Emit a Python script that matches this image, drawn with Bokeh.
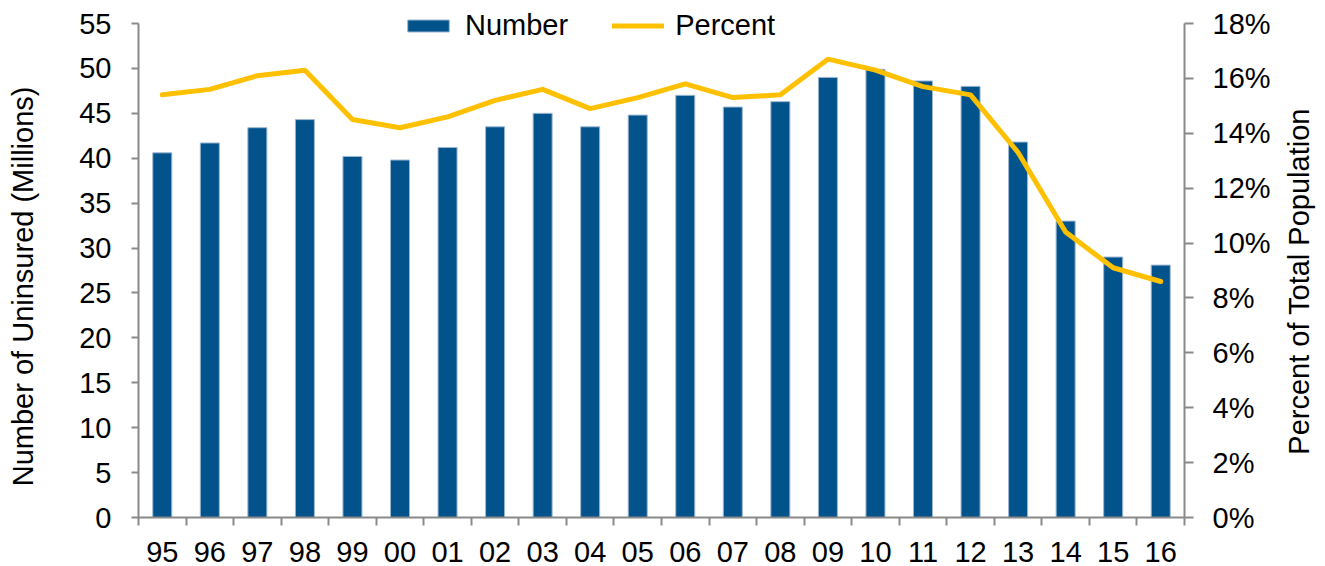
import math
import numpy as np
from bokeh.plotting import figure
from bokeh.layouts import row
from bokeh.models import (Range1d, LinearAxis, FixedTicker, PrintfTickFormatter,
                          Legend, LegendItem, ColumnDataSource, Label)
from bokeh.embed import file_html
from bokeh.resources import INLINE

years = ["95", "96", "97", "98", "99", "00", "01", "02", "03", "04", "05",
         "06", "07", "08", "09", "10", "11", "12", "13", "14", "15", "16"]
uninsured_millions = [40.6, 41.7, 43.4, 44.3, 40.2, 39.8, 41.2, 43.5, 45.0, 43.5, 44.8,
                      47.0, 45.7, 46.3, 49.0, 49.9, 48.6, 48.0, 41.8, 33.0, 29.0, 28.1]
percent_uninsured = [15.4, 15.6, 16.1, 16.3, 14.5, 14.2, 14.6, 15.2, 15.6, 14.9, 15.3,
                     15.8, 15.3, 15.4, 16.7, 16.3, 15.7, 15.4, 13.3, 10.4, 9.1, 8.6]
left_ticks = list(range(0, 56, 5))
right_ticks = list(range(0, 19, 2))
left_max, right_max = 55, 18
left_title = "Number of Uninsured (Millions)"
right_title = "Percent of Total Population"

FONT = "Liberation Sans"
FS = "29px"
AXC = "#898989"

H = 566
WL, WR = 40, 45
WM = 1325 - WL - WR
FRAME_BOTTOM = 49          # px below the plot frame
FRAME_TOP_PX = 23          # where the top tick sits
plot_h = H - FRAME_BOTTOM  # frame runs to the top of the canvas
scale = plot_h / (plot_h - FRAME_TOP_PX)

xpos = (np.arange(len(years)) + 0.5).tolist()
src = ColumnDataSource(dict(x=xpos, num=uninsured_millions, pct=percent_uninsured, year=years))

p = figure(width=WM, height=H, output_backend="svg", toolbar_location=None,
           x_range=Range1d(0, len(years)), y_range=Range1d(0, left_max * scale),
           min_border_left=138 - WL, min_border_right=WM - (1184 - WL),
           min_border_top=0, min_border_bottom=FRAME_BOTTOM)
p.extra_y_ranges = {"pct": Range1d(0, right_max * scale)}

bars = p.vbar(x="x", top="num", width=0.4, source=src, fill_color="#02538B",
              line_color="#9db8d2", line_width=1)
line = p.line(x="x", y="pct", source=src, y_range_name="pct", line_color="#FFC000",
              line_width=5, line_join="round", line_cap="round")

right = LinearAxis(y_range_name="pct")
p.add_layout(right, "right")

p.xgrid.visible = False
p.ygrid.visible = False
p.outline_line_color = None
p.background_fill_color = "white"
p.border_fill_color = "white"

for ax in p.axis:
    ax.axis_line_color = AXC
    ax.axis_line_width = 2
    ax.major_tick_line_color = AXC
    ax.major_tick_line_width = 2
    ax.minor_tick_line_color = AXC
    ax.minor_tick_line_width = 2
    ax.major_tick_in = 0
    ax.minor_tick_in = 0
    ax.minor_tick_out = 0
    ax.major_label_text_font = FONT
    ax.major_label_text_font_size = FS
    ax.major_label_text_color = "black"

xa = p.below[0]
xa.ticker = FixedTicker(ticks=xpos, minor_ticks=list(range(len(years) + 1)))
xa.major_label_overrides = {x: y for x, y in zip(xpos, years)}
xa.major_tick_out = 0
xa.minor_tick_out = 8
xa.major_label_standoff = 16

la = p.left[0]
la.ticker = FixedTicker(ticks=left_ticks)
la.bounds = (0, left_max)
la.major_tick_out = 7
la.major_label_standoff = 20

right.ticker = FixedTicker(ticks=right_ticks)
right.bounds = (0, right_max)
right.formatter = PrintfTickFormatter(format="%d%%")
right.major_tick_out = 9
right.major_label_standoff = 19

legend = Legend(items=[LegendItem(label="Number", renderers=[bars]),
                       LegendItem(label="Percent", renderers=[line])],
                orientation="horizontal", location=(264, plot_h - 42),
                glyph_width=52, glyph_height=15, label_standoff=11, spacing=44,
                padding=0, margin=0, border_line_color=None, background_fill_alpha=0,
                label_text_font=FONT, label_text_font_size=FS, label_text_color="black")
p.add_layout(legend)


def title_strip(width, text, x_anchor, y_anchor):
    f = figure(width=width, height=H, output_backend="svg", toolbar_location=None,
               x_range=Range1d(0, width), y_range=Range1d(0, H),
               x_axis_type=None, y_axis_type=None, min_border=0)
    f.outline_line_color = None
    f.grid.visible = False
    f.border_fill_color = "white"
    f.background_fill_color = "white"
    f.add_layout(Label(x=x_anchor, y=H - y_anchor, text=text, angle=math.pi / 2,
                       text_align="center", text_baseline="alphabetic",
                       text_font=FONT, text_font_size=FS, text_color="black"))
    return f


left_fig = title_strip(WL, left_title, 22, 313)
right_fig = title_strip(WR, right_title, 18.5, 307.5)

layout = row(left_fig, p, right_fig, spacing=0)
open("out.html", "w").write(file_html(layout, INLINE))
